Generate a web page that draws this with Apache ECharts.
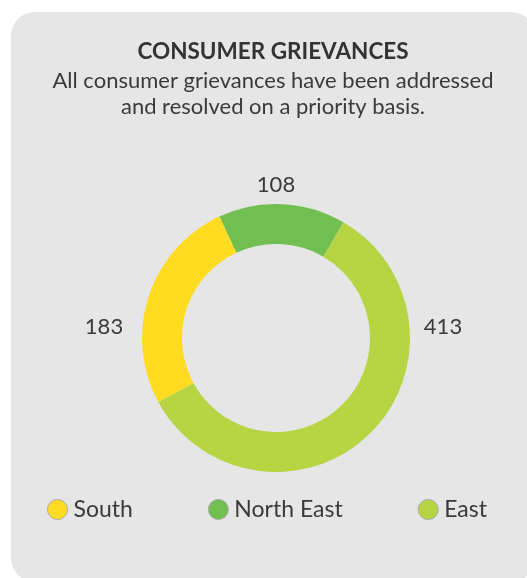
<!DOCTYPE html>
<html>
<head>
<meta charset="utf-8">
<style>
  html, body { margin: 0; padding: 0; background: #ffffff; }
  #chart { width: 527px; height: 578px; }
</style>
<script src="https://cdn.jsdelivr.net/npm/echarts@6/dist/echarts.min.js"></script>
</head>
<body>
<div id="chart"></div>
<script>
// Grievances by region
const regions = ['North East', 'East', 'South'];
const grievances = [108, 413, 183];
const legendOrder = ['South', 'North East', 'East'];
const regionColors = { 'North East': '#71bf50', 'East': '#b7d443', 'South': '#ffdc21' };

const FONT = 'Lato, "Open Sans", sans-serif';
const TEXT = '#3a3a3a';
const CX = 276, CY = 338;

// Where each value label sits relative to the ring centre
const labelOffsets = {
  'North East': [0, -153],
  'East': [167, -11],
  'South': [-172, -11]
};

const chart = echarts.init(document.getElementById('chart'), null, { renderer: 'canvas' });

chart.setOption({
  backgroundColor: '#ffffff',
  animation: false,
  graphic: [{
    type: 'rect',
    z: -10,
    shape: { x: 11, y: 12, width: 524, height: 570, r: 24 },
    style: { fill: '#e6e6e6' }
  }],
  title: {
    text: 'CONSUMER GRIEVANCES',
    subtext: 'All consumer grievances have been addressed\nand resolved on a priority basis.',
    left: 273,
    top: 40,
    padding: 0,
    textAlign: 'center',
    itemGap: 5,
    textStyle: { fontFamily: FONT, fontSize: 22.5, fontWeight: 'bold', color: '#333333' },
    subtextStyle: { fontFamily: FONT, fontSize: 22, color: TEXT, lineHeight: 26 }
  },
  legend: {
    data: legendOrder,
    left: 47,
    top: 498,
    padding: 0,
    icon: 'circle',
    itemWidth: 20,
    itemHeight: 20,
    itemGap: 75,
    itemStyle: { borderColor: '#a8a8a8', borderWidth: 1 },
    textStyle: { fontFamily: FONT, fontSize: 23, color: TEXT, padding: [0, 0, 0, 1] }
  },
  series: [{
    type: 'pie',
    center: [CX, CY],
    radius: [94, 134],
    startAngle: 115,
    clockwise: true,
    silent: true,
    label: {
      show: true,
      position: 'outside',
      formatter: '{c}',
      fontFamily: FONT,
      fontSize: 22,
      color: TEXT
    },
    labelLine: { show: false },
    labelLayout: function (p) {
      const name = regions[p.dataIndex];
      const off = labelOffsets[name];
      return { x: CX + off[0], y: CY + off[1], align: 'center', verticalAlign: 'middle' };
    },
    data: regions.map((r, i) => ({
      name: r,
      value: grievances[i],
      itemStyle: { color: regionColors[r] }
    }))
  }]
});
</script>
</body>
</html>
